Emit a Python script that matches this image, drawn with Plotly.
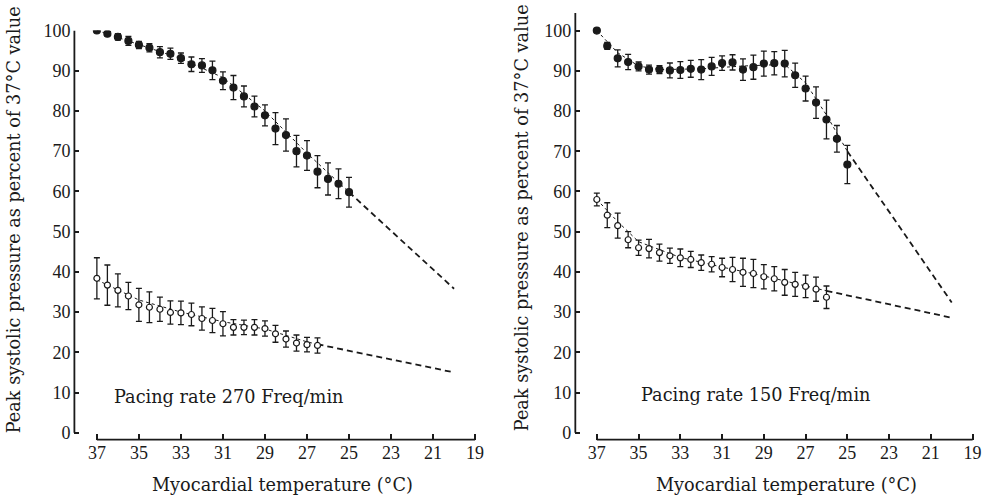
import plotly.graph_objects as go

# ---------------- data ----------------
temps_25 = [37, 36.5, 36, 35.5, 35, 34.5, 34, 33.5, 33, 32.5, 32, 31.5, 31, 30.5, 30,
            29.5, 29, 28.5, 28, 27.5, 27, 26.5, 26, 25.5, 25]

# Left panel: pacing rate 270/min
l_closed_y = [100, 99.2, 98.4, 97.4, 96.4, 95.7, 94.6, 94.2, 93.1, 91.6, 91.3, 90.1, 87.5,
              85.8, 83.6, 81.1, 78.9, 75.6, 74.0, 70.0, 68.9, 64.9, 63.1, 61.9, 59.8]
l_closed_err = [0, 0.5, 0.8, 1.1, 0.9, 1.0, 1.4, 1.4, 1.3, 1.8, 1.7, 2.3, 2.2,
                3.0, 2.6, 2.6, 2.6, 4.0, 4.0, 3.9, 3.7, 4.0, 4.0, 3.7, 3.7]
l_open_x = temps_25[:22]
l_open_y = [38.4, 36.7, 35.4, 34.0, 31.8, 31.2, 30.7, 29.9, 29.8, 29.4, 28.4, 27.9, 27.1,
            26.2, 26.2, 26.2, 25.9, 24.6, 23.3, 22.3, 21.9, 21.7]
l_open_err = [5.1, 5.0, 4.1, 3.4, 4.1, 3.8, 3.0, 2.9, 2.9, 2.8, 2.9, 3.0, 3.0,
              1.9, 1.8, 1.9, 1.9, 2.1, 2.0, 2.0, 1.8, 1.9]
l_closed_fit_x = [37, 35, 33, 31, 29, 27, 25]
l_closed_fit_y = [100, 96.5, 93, 88.3, 80, 69.5, 59.8]
l_closed_ext_x = [25, 20]
l_closed_ext_y = [59.8, 35.8]
l_open_fit_x = [37, 35, 33, 31, 29, 27, 26.5]
l_open_fit_y = [38, 33, 30, 27.6, 25.8, 22.6, 22]
l_open_ext_x = [26.5, 20]
l_open_ext_y = [22, 15]

# Right panel: pacing rate 150/min
r_closed_y = [100, 96.2, 93.1, 92.2, 91.1, 90.3, 90.3, 90.1, 90.2, 90.5, 90.3, 91.1, 91.9,
              92.1, 90.3, 90.9, 91.8, 91.9, 91.8, 88.9, 85.6, 82.1, 77.9, 73.1, 66.7]
r_closed_err = [0, 0.85, 2.1, 1.9, 1.1, 1.1, 1.0, 1.85, 2.1, 2.1, 2.5, 2.25, 1.8,
                1.9, 2.65, 3.0, 3.1, 2.9, 3.3, 3.0, 3.1, 3.9, 4.8, 3.3, 4.75]
r_open_x = temps_25[:23]
r_open_y = [58.0, 54.1, 51.5, 48.0, 46.0, 45.8, 44.8, 44.0, 43.5, 43.1, 42.3, 41.9, 41.1,
            40.6, 39.9, 39.6, 38.8, 38.3, 37.4, 36.9, 36.4, 35.7, 33.7]
r_open_err = [1.6, 3.1, 3.1, 2.0, 1.9, 2.3, 2.1, 1.9, 2.2, 2.0, 1.9, 1.9, 2.3,
              3.0, 3.5, 3.5, 3.0, 3.0, 3.2, 3.0, 2.8, 3.0, 2.8]
r_closed_fit_x = [37, 36, 35, 34, 32, 30, 28, 27, 26, 25]
r_closed_fit_y = [100, 94.5, 91.2, 90.3, 90.5, 91.2, 91.6, 87, 79, 70]
r_closed_ext_x = [25, 20]
r_closed_ext_y = [70, 32.4]
r_open_fit_x = [37, 36, 35, 33, 31, 29, 27, 26]
r_open_fit_y = [58, 52.5, 47.5, 43.6, 41.2, 39.0, 36.5, 35.3]
r_open_ext_x = [26, 20]
r_open_ext_y = [35.3, 28.6]

x_ticks = [37, 35, 33, 31, 29, 27, 25, 23, 21, 19]
y_ticks = [0, 10, 20, 30, 40, 50, 60, 70, 80, 90, 100]

labels = ["Pacing rate 270 Freq/min", "Pacing rate 150 Freq/min"]
x_title = "Myocardial temperature (°C)"
y_title = "Peak systolic pressure as percent of 37°C value"

# ---------------- figure ----------------
TICKFONT = "Liberation Serif, Times New Roman, serif"
TEXTFONT = "DejaVu Serif, serif"
BLACK = "#1a1a1a"
fig = go.Figure()


def add_series(xa, ya, x, y, err, open_marker):
    fig.add_trace(go.Scatter(
        x=x, y=y, xaxis=xa, yaxis=ya, mode="markers",
        marker=dict(size=6 if open_marker else 7,
                    color="white" if open_marker else BLACK,
                    line=dict(color=BLACK, width=1.2)),
        error_y=dict(type="data", array=err, visible=True, color=BLACK,
                     thickness=1.3, width=3),
        showlegend=False, hoverinfo="skip"))


def add_fit(xa, ya, fx, fy, ex, ey):
    fig.add_trace(go.Scatter(x=fx, y=fy, xaxis=xa, yaxis=ya, mode="lines",
                             line=dict(color=BLACK, width=1, dash="3px,3px"),
                             showlegend=False, hoverinfo="skip"))
    fig.add_trace(go.Scatter(x=ex, y=ey, xaxis=xa, yaxis=ya, mode="lines",
                             line=dict(color=BLACK, width=1.8, dash="6px,4px"),
                             showlegend=False, hoverinfo="skip"))


add_fit("x", "y", l_closed_fit_x, l_closed_fit_y, l_closed_ext_x, l_closed_ext_y)
add_fit("x", "y", l_open_fit_x, l_open_fit_y, l_open_ext_x, l_open_ext_y)
add_series("x", "y", temps_25, l_closed_y, l_closed_err, False)
add_series("x", "y", l_open_x, l_open_y, l_open_err, True)

add_fit("x2", "y2", r_closed_fit_x, r_closed_fit_y, r_closed_ext_x, r_closed_ext_y)
add_fit("x2", "y2", r_open_fit_x, r_open_fit_y, r_open_ext_x, r_open_ext_y)
add_series("x2", "y2", temps_25, r_closed_y, r_closed_err, False)
add_series("x2", "y2", r_open_x, r_open_y, r_open_err, True)

W, H = 992, 501
ybot = 1 - 441 / H

xcommon = dict(tickvals=x_ticks, ticktext=[str(v) for v in x_ticks], ticks="inside",
               ticklen=6, tickwidth=1.5, tickcolor=BLACK, showline=False,
               showgrid=False, zeroline=False,
               tickfont=dict(family=TICKFONT, size=18, color=BLACK))
ycommon = dict(tickvals=y_ticks, ticks="inside", ticklen=5, tickwidth=1.5,
               tickcolor=BLACK, showline=False, showgrid=False, zeroline=False,
               ticklabelstandoff=3,
               tickfont=dict(family=TICKFONT, size=18, color=BLACK))

fig.update_layout(
    width=W, height=H, margin=dict(l=0, r=0, t=0, b=0),
    paper_bgcolor="white", plot_bgcolor="white",
    xaxis=dict(domain=[75 / W, 480 / W], range=[38.07, 18.95], anchor="y", **xcommon),
    yaxis=dict(domain=[ybot, 1 - 21 / H], range=[-1.69, 100], anchor="x", **ycommon),
    xaxis2=dict(domain=[580 / W, 982 / W], range=[38.03, 18.93], anchor="y2", **xcommon),
    yaxis2=dict(domain=[ybot, 1 - 3 / H], range=[-1.69, 104.4], anchor="x2", **ycommon),
)

# axis lines (detached, as in the original)
for xr, yr, top in [("x", "y", 100), ("x2", "y2", 104.4)]:
    fig.add_shape(type="line", xref=f"{xr} domain", yref=yr, x0=0, x1=0, y0=0, y1=top,
                  line=dict(color=BLACK, width=1.8))
    fig.add_shape(type="line", xref=xr, yref=f"{yr} domain", x0=37, x1=19, y0=0, y1=0,
                  line=dict(color=BLACK, width=1.8))

tf = dict(family=TEXTFONT, size=17.7, color=BLACK)
# pacing labels
fig.add_annotation(x=36.3, y=9.0, xref="x", yref="y", text=labels[0], showarrow=False,
                   xanchor="left", yanchor="middle", font=tf)
fig.add_annotation(x=35.0, y=9.3, xref="x2", yref="y2", text=labels[1], showarrow=False,
                   xanchor="left", yanchor="middle", font=tf)
# axis titles
for cx in (285, 793):
    fig.add_annotation(x=cx / W, y=1 - 488 / H, xref="paper", yref="paper", text=x_title,
                       showarrow=False, xanchor="center", yanchor="middle", font=tf)
for cx, cy in ((15, 215), (527, 213)):
    fig.add_annotation(x=cx / W, y=1 - cy / H, xref="paper", yref="paper", text=y_title,
                       showarrow=False, xanchor="center", yanchor="middle", textangle=-90,
                       font=tf)

fig.write_html("out.html", config={"displayModeBar": False},
               post_script="document.body.style.margin='0';")
